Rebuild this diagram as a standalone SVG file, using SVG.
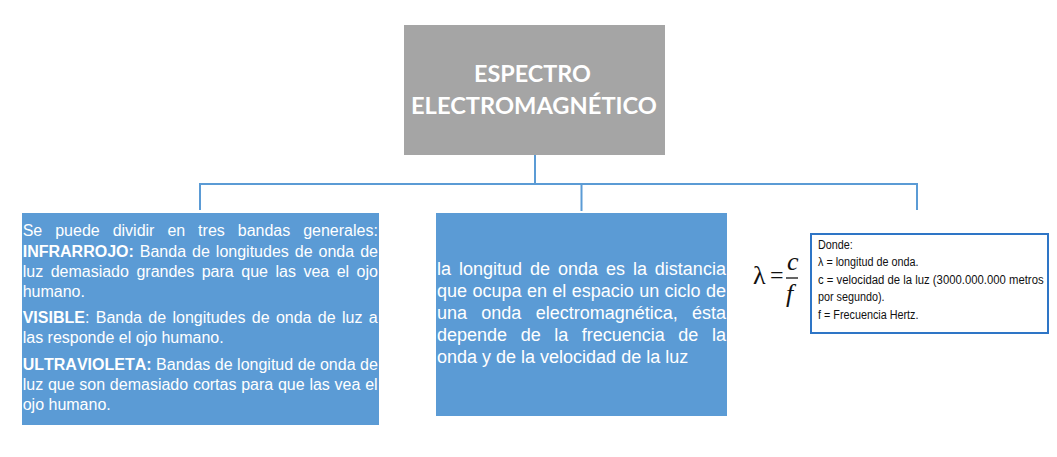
<svg xmlns="http://www.w3.org/2000/svg" width="1057" height="457" viewBox="0 0 1057 457">
  <style>
    .conn { stroke: #5B9BD5; stroke-width: 2; fill: none; }
    .blue { fill: #5B9BD5; }
    .wt { fill: #FFFFFF; font-family: "Liberation Sans", Arial, sans-serif; font-kerning: none; }
    .lt { font-size: 16px; }
    .mt { font-size: 18px; }
    .b { font-weight: bold; }
    .title { fill: #FFFFFF; font-family: Lato, "Liberation Sans", sans-serif; font-weight: bold; font-size: 23px; }
    .ft { fill: #111111; font-family: "Liberation Sans", Arial, sans-serif; font-size: 13.5px; }
    .math { fill: #111111; font-family: "Liberation Serif", "DejaVu Serif", serif; }
  </style>
  <rect width="1057" height="457" fill="#FFFFFF"/>

  <g id="connectors">
    <line class="conn" x1="535" y1="155" x2="535" y2="184"/>
    <line class="conn" x1="199" y1="184" x2="918" y2="184"/>
    <line class="conn" x1="200" y1="184" x2="200" y2="210"/>
    <line class="conn" x1="581.5" y1="184" x2="581.5" y2="211"/>
    <line class="conn" x1="917" y1="184" x2="917" y2="210"/>
  </g>

  <g id="node-title">
    <rect x="404" y="25" width="261" height="130" fill="#A5A5A5"/>
    <text class="title" x="474" y="82" textLength="117" lengthAdjust="spacingAndGlyphs">ESPECTRO</text>
    <text class="title" x="411" y="114" textLength="246" lengthAdjust="spacingAndGlyphs">ELECTROMAGNÉTICO</text>
  </g>

  <g id="node-bandas">
    <rect class="blue" x="22" y="213" width="357" height="212"/>
    <text class="wt lt" x="22.7" y="236" word-spacing="8.5">Se puede dividir en tres bandas generales:</text>
    <text class="wt lt" x="22.7" y="257" word-spacing="1.55"><tspan class="b">INFRARROJO:</tspan> Banda de longitudes de onda de</text>
    <text class="wt lt" x="22.7" y="277" word-spacing="3.05">luz demasiado grandes para que las vea el ojo</text>
    <text class="wt lt" x="22.7" y="296.5">humano.</text>
    <text class="wt lt" x="22.7" y="323" word-spacing="1.9"><tspan class="b">VISIBLE</tspan>: Banda de longitudes de onda de luz a</text>
    <text class="wt lt" x="22.7" y="342.5">las responde el ojo humano.</text>
    <text class="wt lt" x="22.7" y="370" word-spacing="0.05"><tspan class="b">ULTRAVIOLETA:</tspan> Bandas de longitud de onda de</text>
    <text class="wt lt" x="22.7" y="390" word-spacing="0.3">luz que son demasiado cortas para que las vea el</text>
    <text class="wt lt" x="22.7" y="409.5">ojo humano.</text>
  </g>

  <g id="node-longitud">
    <rect class="blue" x="436" y="213" width="291" height="203"/>
    <text class="wt mt" x="437" y="275" word-spacing="2.95">la longitud de onda es la distancia</text>
    <text class="wt mt" x="437" y="297" word-spacing="0.4">que ocupa en el espacio un ciclo de</text>
    <text class="wt mt" x="437" y="319" word-spacing="9.3">una onda electromagnética, ésta</text>
    <text class="wt mt" x="437" y="341" word-spacing="8.55">depende de la frecuencia de la</text>
    <text class="wt mt" x="437" y="363">onda y de la velocidad de la luz</text>
  </g>

  <g id="node-formula">
    <text class="math" x="753" y="284" font-size="26">λ</text>
    <text class="math" x="770" y="283" font-size="24">=</text>
    <text class="math" x="787" y="270" font-size="26" font-style="italic">c</text>
    <line x1="786" y1="278" x2="798" y2="278" stroke="#111111" stroke-width="1.3"/>
    <text class="math" x="786" y="302" font-size="26" font-style="italic">f</text>
  </g>

  <g id="node-donde">
    <rect x="811" y="234" width="237" height="99" fill="#FFFFFF" stroke="#2E75C6" stroke-width="2"/>
    <g transform="translate(818,0) scale(0.8,1)">
      <text class="ft" x="0" y="249">Donde:</text>
      <text class="ft" x="0" y="266.5">λ = longitud de onda.</text>
      <text class="ft" x="0" y="284" textLength="282" lengthAdjust="spacingAndGlyphs">c = velocidad de la luz (3000.000.000 metros</text>
      <text class="ft" x="0" y="301.5">por segundo).</text>
      <text class="ft" x="0" y="319">f = Frecuencia Hertz.</text>
    </g>
  </g>
</svg>
